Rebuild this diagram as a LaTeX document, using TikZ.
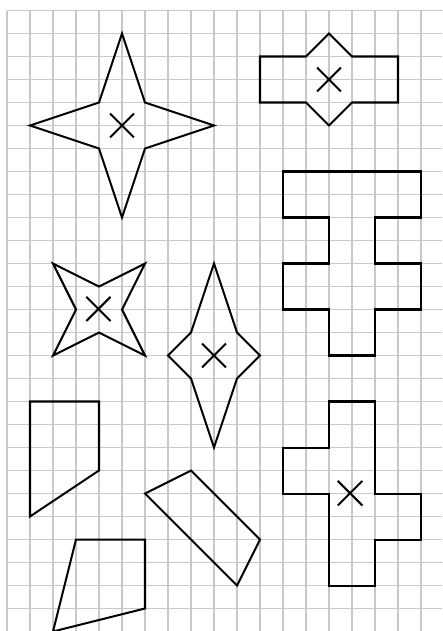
\documentclass[tikz,border=0pt]{standalone}
\begin{document}
\begin{tikzpicture}[x=0.6cm,y=-0.6cm,
  gridline/.style={draw={rgb,255:red,200;green,200;blue,200},line width=0.95pt},
  figline/.style={draw=black,line width=1.5pt,line join=miter},
  crossmark/.style={draw=black,line width=1.5pt}]
\useasboundingbox (-0.3043,-0.4565) rectangle (18.913,26.978);
% grid
\foreach \i in {0,...,18} \draw[gridline] (\i,0) -- (\i,26.978);
\foreach \j in {0,...,26} \draw[gridline] (0,\j) -- (18.913,\j);
% big star
\draw[figline] (5,1) -- (6,4) -- (9,5) -- (6,6) -- (5,9) -- (4,6) -- (1,5) -- (4,4) -- cycle;
\draw[crossmark] (4.48,4.48) -- (5.52,5.52) (4.48,5.52) -- (5.52,4.48);
% top right shape
\draw[figline] (11,2) -- (13,2) -- (14,1) -- (15,2) -- (17,2) -- (17,4) -- (15,4) -- (14,5) -- (13,4) -- (11,4) -- cycle;
\draw[crossmark] (13.48,2.48) -- (14.52,3.52) (13.48,3.52) -- (14.52,2.48);
% T shape
\draw[figline] (12,7) -- (18,7) -- (18,9) -- (16,9) -- (16,11) -- (18,11) -- (18,13) -- (16,13) -- (16,15) -- (14,15) -- (14,13) -- (12,13) -- (12,11) -- (14,11) -- (14,9) -- (12,9) -- cycle;
% small star
\draw[figline] (2,11) -- (4,12) -- (6,11) -- (5,13) -- (6,15) -- (4,14) -- (2,15) -- (3,13) -- cycle;
\draw[crossmark] (3.45,12.45) -- (4.5,13.5) (3.45,13.5) -- (4.5,12.45);
% tall star
\draw[figline] (9,11) -- (10,14) -- (11,15) -- (10,16) -- (9,19) -- (8,16) -- (7,15) -- (8,14) -- cycle;
\draw[crossmark] (8.48,14.48) -- (9.52,15.52) (8.48,15.52) -- (9.52,14.48);
% quadrilateral left
\draw[figline] (1,17) -- (4,17) -- (4,20) -- (1,22) -- cycle;
% tilted quadrilateral
\draw[figline] (6,21) -- (8,20) -- (11,23) -- (10,25) -- cycle;
% bottom quadrilateral
\draw[figline] (3,23) -- (6,23) -- (6,26) -- (2,27) -- cycle;
% cross shape
\draw[figline] (14,17) -- (16,17) -- (16,21) -- (18,21) -- (18,23) -- (16,23) -- (16,25) -- (14,25) -- (14,21) -- (12,21) -- (12,19) -- (14,19) -- cycle;
\draw[crossmark] (14.38,20.45) -- (15.45,21.52) (14.38,21.52) -- (15.45,20.45);
\end{tikzpicture}
\end{document}
